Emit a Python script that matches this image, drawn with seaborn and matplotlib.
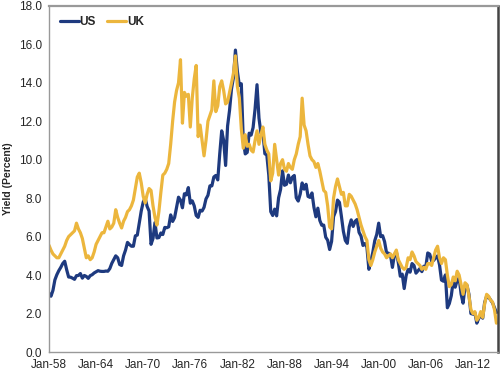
import numpy as np
import pandas as pd
import matplotlib
matplotlib.use("Agg")
import matplotlib.pyplot as plt
import seaborn as sns

# quarterly readings (Jan, Apr, Jul, Oct) from 1958 to Jan 2015
us_yield = [
    3.05, 2.90, 3.20, 3.75,  # 1958
    4.02, 4.23, 4.40, 4.60,
    4.72, 4.28, 3.90, 3.89,  # 1960
    3.84, 3.78, 3.97, 3.98,
    4.08, 3.84, 3.98, 3.93,
    3.83, 3.97, 4.02, 4.11,
    4.17, 4.23, 4.20, 4.19,
    4.19, 4.21, 4.20, 4.34,
    4.61, 4.80, 5.00, 4.90,
    4.55, 4.50, 5.00, 5.30,
    5.70, 5.59, 5.50, 5.50,
    6.04, 6.08, 6.72, 7.33,
    7.79, 8.00, 7.57, 7.33,  # 1970
    5.60, 5.90, 6.73, 5.93,
    5.95, 6.19, 6.11, 6.48,
    6.46, 6.51, 7.13, 6.79,
    6.99, 7.51, 8.05, 7.90,
    7.50, 8.23, 8.17, 8.55,
    7.74, 7.86, 7.60, 7.10,
    7.00, 7.37, 7.33, 7.52,
    7.96, 8.15, 8.64, 8.64,
    9.10, 9.18, 8.95, 10.30,
    11.50, 11.00, 9.70, 11.75,  # 1980
    12.57, 13.68, 14.28, 15.70,
    14.59, 13.87, 13.95, 11.00,
    10.30, 10.38, 11.38, 11.28,
    11.67, 12.63, 13.90, 12.16,
    11.38, 11.43, 10.31, 10.24,
    9.19, 7.30, 7.10, 7.43,
    7.08, 8.02, 8.45, 9.42,
    8.67, 8.72, 9.20, 8.80,
    9.09, 9.18, 8.02, 7.85,
    8.21, 8.79, 8.47, 8.72,  # 1990
    8.09, 8.04, 8.27, 7.53,
    7.03, 7.48, 6.84, 6.59,
    6.60, 5.97, 5.81, 5.33,
    5.75, 7.04, 7.30, 7.90,
    7.78, 7.06, 6.28, 5.80,
    5.65, 6.51, 6.87, 6.53,
    6.80, 6.89, 6.22, 6.03,
    5.54, 5.64, 5.46, 4.30,
    4.72, 5.18, 5.79, 6.11,
    6.70, 6.00, 6.05, 5.74,  # 2000
    5.16, 5.14, 5.06, 4.40,
    5.04, 5.21, 4.65, 3.94,
    4.05, 3.30, 3.98, 4.29,
    4.15, 4.60, 4.50, 4.10,
    4.22, 4.34, 4.18, 4.46,
    4.42, 5.15, 5.09, 4.73,
    4.76, 4.90, 5.00, 4.53,
    3.74, 3.68, 4.01, 2.30,
    2.52, 2.93, 3.70, 3.37,
    3.73, 3.85, 3.01, 2.54,  # 2010
    3.39, 3.46, 3.00, 2.00,
    1.97, 2.05, 1.50, 1.75,
    1.91, 1.76, 2.58, 2.90,
    2.86, 2.71, 2.56, 2.30,
    2.05,
]

uk_yield = [
    5.55, 5.30, 5.10, 5.00,  # 1958
    4.90, 4.90, 5.10, 5.30,
    5.50, 5.80, 6.00, 6.10,  # 1960
    6.20, 6.30, 6.70, 6.40,
    6.20, 5.90, 5.40, 4.90,
    5.00, 4.80, 4.90, 5.20,
    5.60, 5.80, 6.00, 6.20,
    6.20, 6.50, 6.80, 6.40,
    6.50, 6.70, 7.40, 7.00,
    6.70, 6.45, 6.80, 7.00,
    7.30, 7.40, 7.60, 7.90,
    8.50, 9.10, 9.30, 8.80,
    8.10, 7.75, 8.20, 8.50,  # 1970
    8.40, 7.60, 7.00, 6.60,
    7.30, 8.30, 9.20, 9.30,
    9.50, 9.80, 10.80, 12.00,
    13.00, 13.60, 14.00, 15.20,
    11.90, 13.50, 13.30, 13.40,
    11.70, 13.20, 14.20, 14.90,
    11.20, 11.80, 11.00, 10.20,
    11.00, 12.00, 12.30, 12.60,
    14.10, 12.50, 12.80, 13.80,
    14.10, 13.60, 12.90, 13.00,  # 1980
    13.50, 14.00, 14.50, 15.40,
    13.80, 13.20, 11.60, 10.60,
    11.30, 10.70, 10.80, 10.50,
    10.40, 11.00, 11.50, 10.80,
    11.30, 11.70, 10.80, 10.50,
    10.30, 8.90, 9.30, 10.80,
    10.00, 9.20, 9.80, 10.00,
    9.50, 9.40, 9.80, 9.60,
    9.50, 10.00, 10.30, 10.80,
    11.20, 13.20, 11.80, 11.50,  # 1990
    10.80, 10.20, 10.00, 9.90,
    9.60, 9.80, 9.40, 8.90,
    8.40, 8.30, 7.60, 6.50,
    6.40, 8.00, 8.60, 9.00,
    8.60, 8.20, 8.30, 7.60,
    7.60, 8.20, 8.10, 7.90,
    7.70, 7.40, 7.00, 6.60,
    6.30, 6.00, 5.80, 4.80,
    4.50, 4.80, 5.20, 5.50,
    5.80, 5.40, 5.20, 5.10,  # 2000
    4.90, 5.00, 5.10, 4.90,
    5.10, 5.30, 4.80, 4.60,
    4.40, 4.30, 4.40, 4.90,
    4.80, 5.20, 5.00, 4.70,
    4.60, 4.50, 4.30, 4.40,
    4.30, 4.60, 4.60, 4.50,
    4.90, 5.30, 5.50, 4.90,
    4.60, 4.90, 4.80, 4.00,
    3.40, 3.50, 3.90, 3.70,
    4.20, 4.00, 3.50, 3.00,  # 2010
    3.60, 3.50, 2.90, 2.20,
    2.00, 2.10, 1.65, 1.80,
    2.10, 1.80, 2.50, 3.00,
    2.90, 2.70, 2.60, 2.20,
    1.50,
]

tick_years = [1958, 1964, 1970, 1976, 1982, 1988, 1994, 2000, 2006, 2012]
tick_labels = ["Jan-58", "Jan-64", "Jan-70", "Jan-76", "Jan-82",
               "Jan-88", "Jan-94", "Jan-00", "Jan-06", "Jan-12"]

n = len(us_yield)
years = 1958 + np.arange(n) / 4.0
df = pd.concat([
    pd.DataFrame({"year": years, "yield": us_yield, "country": "US"}),
    pd.DataFrame({"year": years, "yield": uk_yield, "country": "UK"}),
])

sns.set_style("white")
plt.rcParams["font.family"] = ["Liberation Sans", "DejaVu Sans"]

fig = plt.figure(figsize=(5, 3.73), dpi=100)
ax = fig.add_axes([0.098, 0.0563, 0.898, 0.928])

sns.lineplot(data=df, x="year", y="yield", hue="country",
             palette={"US": "#1e3a7f", "UK": "#ecb63d"},
             linewidth=2.3, ax=ax)

ax.set_xlim(1958, 2015.2)
ax.set_ylim(0, 18)
ax.set_xticks(tick_years)
ax.set_xticklabels(tick_labels)
ax.set_yticks(np.arange(0, 18.1, 2))
ax.set_yticklabels([f"{v:.1f}" for v in np.arange(0, 18.1, 2)])
ax.tick_params(axis="both", labelsize=8.5, direction="out", length=3,
               color="#999999", width=0.8, pad=2)
ax.set_xlabel("")
ax.set_ylabel("Yield (Percent)", fontsize=7.5, fontweight="bold", labelpad=4)

for side in ["left", "bottom", "top"]:
    ax.spines[side].set_color("#999999")
    ax.spines[side].set_linewidth(1.0)
ax.spines["top"].set_linewidth(1.6)
ax.spines["right"].set_color("#444444")
ax.spines["right"].set_linewidth(1.8)

leg = ax.legend(loc="upper left", frameon=False, handlelength=1.6,
                handletextpad=0.1, columnspacing=0.9, ncol=2,
                prop={"weight": "bold", "size": 8.5},
                bbox_to_anchor=(0.0, 1.0), borderaxespad=0.5)

fig.savefig("out.png", dpi=100)
